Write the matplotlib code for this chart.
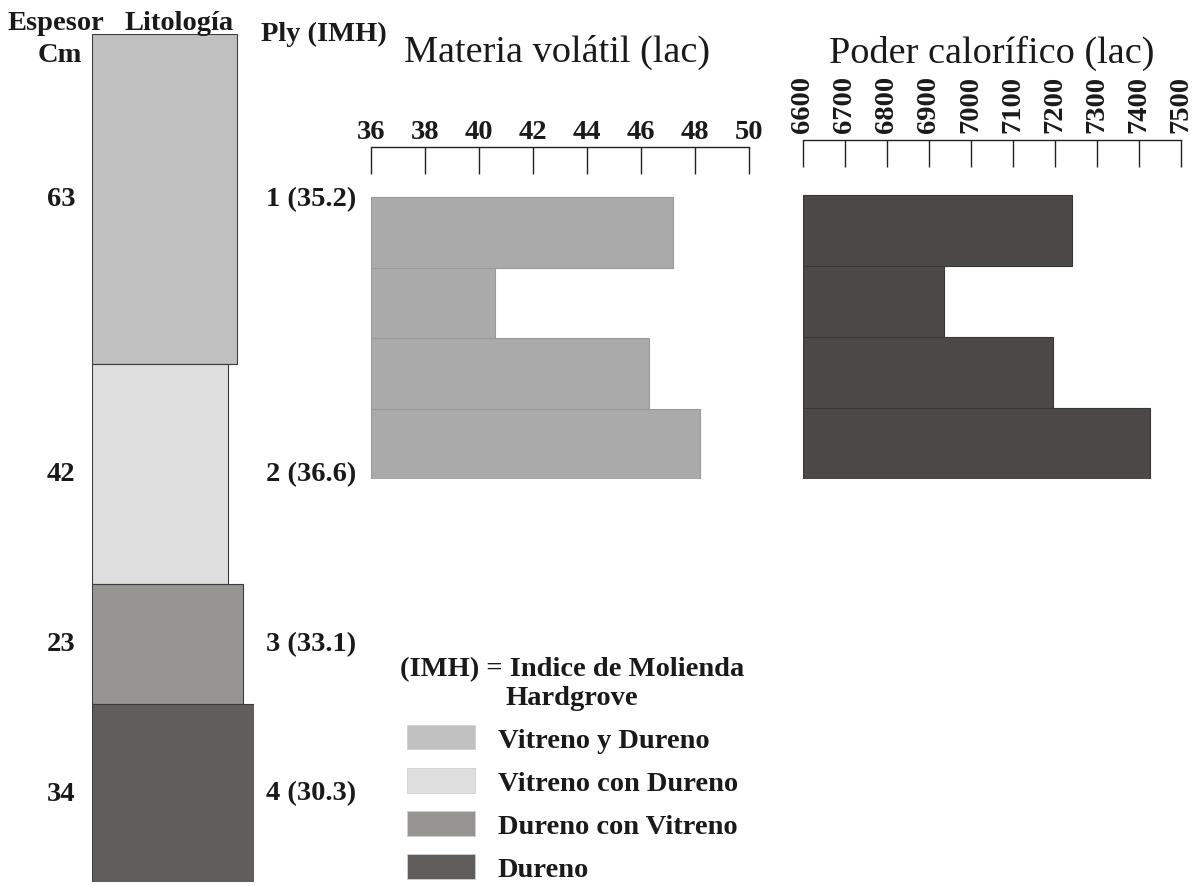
import matplotlib
matplotlib.use("Agg")
import matplotlib.pyplot as plt
import matplotlib.transforms as mtransforms
from matplotlib.patches import Patch

# ---------------- data ----------------
layer_names = ["Vitreno y Dureno", "Vitreno con Dureno", "Dureno con Vitreno", "Dureno"]
layer_thickness = [63, 42, 23, 34]          # cm
ply_labels = ["1 (35.2)", "2 (36.6)", "3 (33.1)", "4 (30.3)"]

mv_values = [47.2, 40.6, 46.3, 48.2]        # Materia volatil (lac)
mv_ticks = [36, 38, 40, 42, 44, 46, 48, 50]

pc_values = [7240, 6935, 7195, 7425]        # Poder calorifico (lac)
pc_ticks = [6600, 6700, 6800, 6900, 7000, 7100, 7200, 7300, 7400, 7500]

# ---------------- style ----------------
layer_colors = ["#c0c0c0", "#dedede", "#969592", "#615d5a"]
layer_widths = [0.895, 0.84, 0.932, 1.0]    # relative column widths (drawing style)
mv_color = "#aaaaaa"
pc_color = "#4c4847"
FONT = "Liberation Serif"
FS = 20.5
TXT = "#1a1a1a"

W, H = 1196, 887
fig = plt.figure(figsize=(W / 100, H / 100), dpi=100)
fig.patch.set_facecolor("white")


def fx(px):
    return px / W


def fy(py):
    return 1 - py / H


def rect(l, t, r, b):
    return [fx(l), fy(b), fx(r) - fx(l), fy(t) - fy(b)]


# ---------------- lithology column ----------------
ax_l = fig.add_axes(rect(92, 35, 254, 883))
total = sum(layer_thickness)
bottoms = [sum(layer_thickness[:i]) for i in range(len(layer_thickness))]
ax_l.bar([0] * 4, layer_thickness, width=layer_widths, bottom=bottoms, align="edge",
         color=layer_colors, edgecolor="#3c3c3c", linewidth=0.8)
ax_l.set_xlim(0, 1)
ax_l.set_ylim(total, 0)
ax_l.axis("off")

tr = mtransforms.blended_transform_factory(fig.transFigure, ax_l.transData)
for b, t, pl in zip(bottoms, layer_thickness, ply_labels):
    mid = b + t / 2
    ax_l.text(fx(61), mid, str(t), transform=tr, ha="center", va="center",
              fontsize=FS, fontweight="bold", family=FONT, color=TXT)
    ax_l.text(fx(266), mid, pl, transform=tr, ha="left", va="center",
              fontsize=FS, fontweight="bold", family=FONT, color=TXT)

# headers
fig.text(fx(56), fy(30), "Espesor", ha="center", va="baseline", fontsize=FS,
         fontweight="bold", family=FONT, color=TXT)
fig.text(fx(60), fy(62), "Cm", ha="center", va="baseline", fontsize=FS,
         fontweight="bold", family=FONT, color=TXT)
fig.text(fx(179), fy(30), "Litología", ha="center", va="baseline", fontsize=FS,
         fontweight="bold", family=FONT, color=TXT)
fig.text(fx(324), fy(41), "Ply (IMH)", ha="center", va="baseline", fontsize=FS,
         fontweight="bold", family=FONT, color=TXT)


def style_axis(ax, ticks, rot, pad):
    for s in ["left", "right", "bottom"]:
        ax.spines[s].set_visible(False)
    ax.spines["top"].set_linewidth(1.0)
    ax.spines["top"].set_color("#222222")
    ax.xaxis.tick_top()
    ax.set_xticks(ticks)
    ax.set_xticklabels([str(t) for t in ticks], rotation=rot,
                       fontsize=FS, fontweight="bold", family=FONT, color=TXT)
    ax.tick_params(axis="x", direction="in", length=19.5, width=1.0, color="#222222",
                   pad=pad)
    ax.set_yticks([])
    ax.set_xlim(ticks[0], ticks[-1])


# ---------------- Materia volatil ----------------
ax_mv = fig.add_axes(rect(371, 148, 749, 480))
ax_mv.barh(range(4), [v - mv_ticks[0] for v in mv_values], left=mv_ticks[0], height=1.0,
           color=mv_color, edgecolor="#999999", linewidth=0.8)
ax_mv.set_ylim(3.5, -1.21)
style_axis(ax_mv, mv_ticks, 0, 2)
fig.text(fx(557), fy(62), "Materia volátil (lac)", ha="center", va="baseline",
         fontsize=27.5, family=FONT, color=TXT)

# ---------------- Poder calorifico ----------------
ax_pc = fig.add_axes(rect(803, 141, 1181, 480))
ax_pc.barh(range(4), [v - pc_ticks[0] for v in pc_values], left=pc_ticks[0], height=1.0,
           color=pc_color, edgecolor="#3a3636", linewidth=0.8)
ax_pc.set_ylim(3.5, -1.28)
style_axis(ax_pc, pc_ticks, 90, 6)
fig.text(fx(992), fy(63), "Poder calorífico (lac)", ha="center", va="baseline",
         fontsize=27.5, family=FONT, color=TXT)

# ---------------- legend ----------------
handles = [Patch(facecolor=c, edgecolor="#d0d0d0", linewidth=0.6) for c in layer_colors]
fsp = FS * 100 / 72
leg = fig.legend(handles, layer_names, loc="upper left",
                 bbox_to_anchor=(fx(400), fy(657)), bbox_transform=fig.transFigure,
                 frameon=False, borderpad=0, borderaxespad=0,
                 handlelength=68 / fsp, handleheight=27 / fsp,
                 handletextpad=23 / fsp, labelspacing=0.53,
                 title="(IMH) = Indice de Molienda\nHardgrove",
                 prop={"family": FONT, "weight": "bold", "size": FS})
leg.get_title().set_fontproperties({"family": FONT, "weight": "bold", "size": FS})
leg.get_title().set_multialignment("center")
leg.get_title().set_color(TXT)
for t in leg.get_texts():
    t.set_color(TXT)

fig.savefig("out.png", dpi=100)
